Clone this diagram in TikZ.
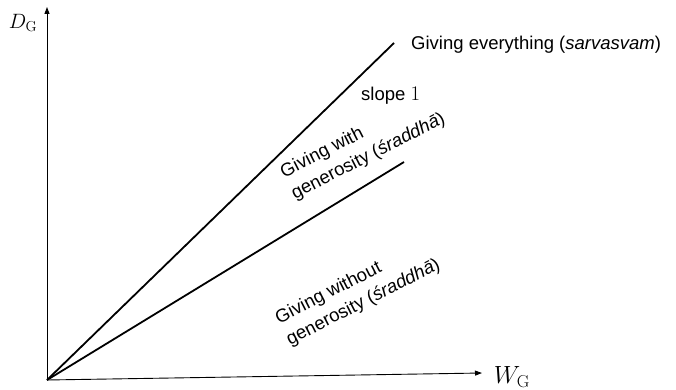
\documentclass[tikz,border=0pt]{standalone}
\usepackage[no-math]{fontspec}
\setmainfont{Liberation Sans}
\usetikzlibrary{arrows.meta}
\begin{document}
\begin{tikzpicture}[x=1pt,y=-1pt,
  axis/.style={line width=0.9pt,-{Triangle[length=7pt,width=5pt]}},
  ray/.style={line width=1.8pt},
  lab/.style={font=\fontsize{18.5}{24}\selectfont,inner sep=0pt},
  rlab/.style={lab,rotate=27,align=left},
  axlab/.style={inner sep=0pt}]
\useasboundingbox (0,0) rectangle (676,390);
\coordinate (O) at (47,380);
\coordinate (Ytip) at (47,7);
\coordinate (Xtip) at (482,373);
\coordinate (L1) at (394,43);
\coordinate (L2) at (404,162);
\draw[axis] (O) -- (Ytip);
\draw[axis] (O) -- (Xtip);
\draw[ray] (O) -- (L1);
\draw[ray] (O) -- (L2);
\node[axlab] (dg) at (23,23) {\fontsize{22}{24}\selectfont$D_{\mathrm{G}}$};
\node[axlab] (wg) at (512,377) {\fontsize{23}{26}\selectfont$W_{\mathrm{G}}$};
\node[lab,anchor=west] (ge) at (411,45) {Giving everything (\textit{sarvasvam})};
\node[lab,anchor=west] (sl) at (361,96) {slope {\fontsize{20}{24}\selectfont$1$}};
\node[rlab] (gw) at (363,146) {Giving with\\generosity (\textit{śraddhā})};
\node[rlab] (gwo) at (358,292) {Giving without\\generosity (\textit{śraddhā})};
\end{tikzpicture}
\end{document}
